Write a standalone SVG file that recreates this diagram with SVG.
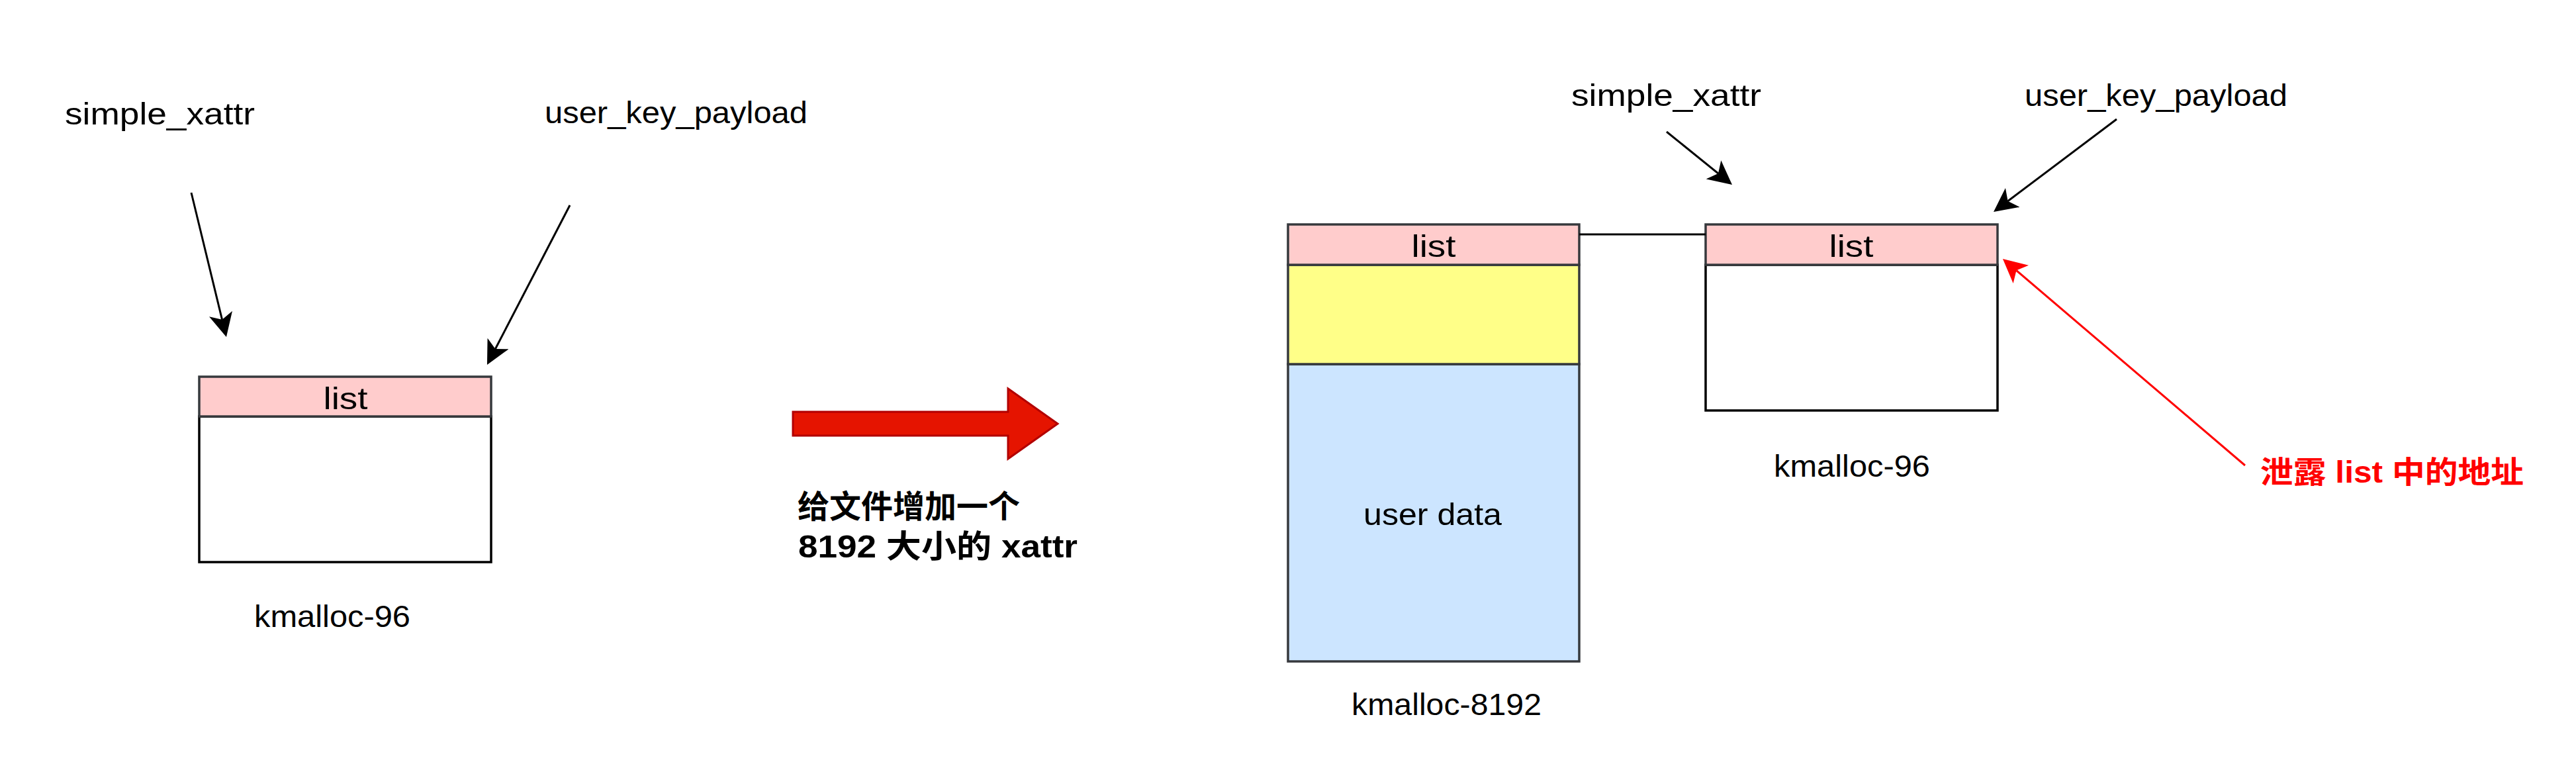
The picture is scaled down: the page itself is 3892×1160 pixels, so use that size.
<svg xmlns="http://www.w3.org/2000/svg" width="3892" height="1160" viewBox="0 0 3892 1160">
<style>
.lbl{font-family:"Liberation Sans","Noto Sans CJK SC",sans-serif;font-size:46px;fill:#000}
.mid{text-anchor:middle}
.bold{font-family:"Liberation Sans","Noto Sans CJK SC",sans-serif;font-size:48px;font-weight:bold;fill:#000}
.red{font-family:"Liberation Sans","Noto Sans CJK SC",sans-serif;font-size:46px;font-weight:bold;fill:#ff0000}
.hdr{fill:#ffcccc;stroke:#36393d;stroke-width:3.5}
.body{fill:#ffffff;stroke:#000;stroke-width:3.5}
.yel{fill:#ffff88;stroke:#36393d;stroke-width:3.5}
.blu{fill:#cce5ff;stroke:#36393d;stroke-width:3.5}
.edge{fill:none;stroke:#000;stroke-width:3}
.edgered{fill:none;stroke:#ff0000;stroke-width:3}
</style>
<defs>
<marker id="ah" markerUnits="userSpaceOnUse" viewBox="0 0 36 36" markerWidth="36" markerHeight="36" refX="9" refY="18" orient="auto">
<path d="M0,0 L36,18 L0,36 L9,18 Z" fill="#000"/>
</marker>
<marker id="ahr" markerUnits="userSpaceOnUse" viewBox="0 0 36 36" markerWidth="36" markerHeight="36" refX="9" refY="18" orient="auto">
<path d="M0,0 L36,18 L0,36 L9,18 Z" fill="#ff0000"/>
</marker>
</defs>
<rect width="3892" height="1160" fill="#fff"/>

<g id="label-simple-xattr-left"><text class="lbl" x="98" y="188" textLength="287" lengthAdjust="spacingAndGlyphs">simple_xattr</text></g>
<g id="label-user-key-payload-left"><text class="lbl" x="823" y="186" textLength="397" lengthAdjust="spacingAndGlyphs">user_key_payload</text></g>

<g id="obj-left">
<rect class="body" x="301" y="629" width="441" height="220"/>
<rect class="hdr" x="301" y="569" width="441" height="60"/>
<text class="lbl mid" x="522" y="618" textLength="67" lengthAdjust="spacingAndGlyphs">list</text>
</g>
<g id="label-kmalloc96-left"><text class="lbl" x="384" y="947" textLength="236" lengthAdjust="spacingAndGlyphs">kmalloc-96</text></g>

<g id="big-arrow">
<polygon points="1198,622 1523,622 1523,587 1598,640 1523,693 1523,658 1198,658" fill="#e51400" stroke="#b20000" stroke-width="3"/>
</g>
<g id="label-step">
<text class="bold" x="1205" y="782">给文件增加一个</text>
<text class="bold" x="1206" y="842" textLength="422" lengthAdjust="spacingAndGlyphs">8192 大小的 xattr</text>
</g>

<g id="label-simple-xattr-right"><text class="lbl" x="2374" y="160" textLength="287" lengthAdjust="spacingAndGlyphs">simple_xattr</text></g>
<g id="label-user-key-payload-right"><text class="lbl" x="3059" y="160" textLength="397" lengthAdjust="spacingAndGlyphs">user_key_payload</text></g>

<g id="obj-8192">
<rect class="blu" x="1946" y="550" width="440" height="449"/>
<rect class="yel" x="1946" y="400" width="440" height="150"/>
<rect class="hdr" x="1946" y="339" width="440" height="61"/>
<text class="lbl mid" x="2166" y="388" textLength="67" lengthAdjust="spacingAndGlyphs">list</text>
<text class="lbl" x="2060" y="793" textLength="209" lengthAdjust="spacingAndGlyphs">user data</text>
</g>
<g id="label-kmalloc8192"><text class="lbl" x="2042" y="1080" textLength="287" lengthAdjust="spacingAndGlyphs">kmalloc-8192</text></g>

<g id="obj-right">
<rect class="body" x="2577" y="400" width="441" height="220"/>
<rect class="hdr" x="2577" y="339" width="441" height="61"/>
<text class="lbl mid" x="2797" y="388" textLength="67" lengthAdjust="spacingAndGlyphs">list</text>
</g>
<g id="label-kmalloc96-right"><text class="lbl" x="2680" y="720" textLength="236" lengthAdjust="spacingAndGlyphs">kmalloc-96</text></g>

<g id="label-leak"><text class="red" x="3415" y="729" textLength="398" lengthAdjust="spacingAndGlyphs">泄露 list 中的地址</text></g>

<g id="connectors">
<path class="edge" d="M289,291 L335.6,482.8" marker-end="url(#ah)"/>
<path class="edge" d="M861,310 L748.4,527" marker-end="url(#ah)"/>
<path class="edge" d="M2518,199 L2596,262" marker-end="url(#ah)"/>
<path class="edge" d="M3198,180 L3033.6,303.8" marker-end="url(#ah)"/>
<path class="edgered" d="M3392,703 L3046.5,408.5" marker-end="url(#ahr)"/>
<path class="edge" d="M2386,354 L2577,354"/>
</g>
</svg>
